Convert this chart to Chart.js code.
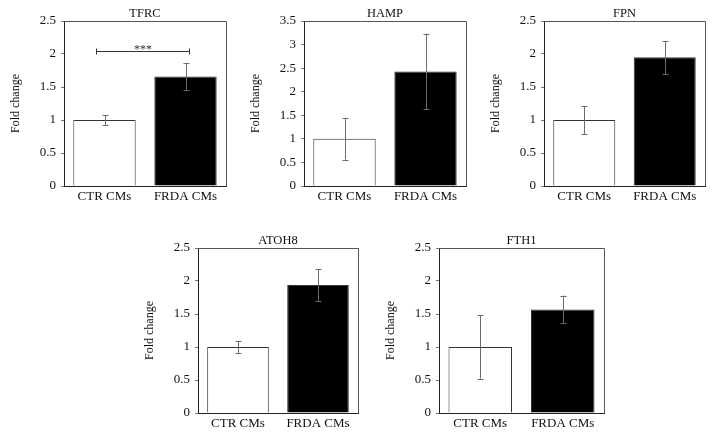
<!DOCTYPE html>
<html>
<head>
<meta charset="utf-8">
<script src="https://cdn.jsdelivr.net/npm/chart.js@4"></script>
<style>
  body { margin: 0; background: #fff; }
  #wrap { position: relative; width: 714px; height: 438px; }
  canvas { position: absolute; }
</style>
</head>
<body>
<div id="wrap">
  <canvas id="c-tfrc"></canvas>
  <canvas id="c-hamp"></canvas>
  <canvas id="c-fpn"></canvas>
  <canvas id="c-atoh8"></canvas>
  <canvas id="c-fth1"></canvas>
</div>
<script>
// Data
const categories = ['CTR CMs', 'FRDA CMs'];
const barColors = ['#ffffff', '#000000'];

const tfrcMean = [1.0, 1.66];
const tfrcErr = [0.075, 0.2];

const hampMean = [1.0, 2.43];
const hampErr = [0.44, 0.8];

const fpnMean = [1.0, 1.95];
const fpnErr = [0.21, 0.25];

const atoh8Mean = [1.0, 1.94];
const atoh8Err = [0.095, 0.24];

const fth1Mean = [1.0, 1.57];
const fth1Err = [0.48, 0.21];

const yMaxes = { TFRC: 2.5, HAMP: 3.5, FPN: 2.5, ATOH8: 2.5, FTH1: 2.5 };

// TFRC significance bracket
const sigLevel = 2.05;
const sigText = '***';

const font = "'Liberation Serif', 'DejaVu Serif', serif";

// title, error bars, frame, bracket
const extrasPlugin = {
    id: 'extras',
    afterDatasetsDraw(chart, args, opts) {
        const ctx = chart.ctx;
        const x = chart.scales.x, y = chart.scales.y;
        const area = chart.chartArea;
        ctx.save();

        // panel title, centred over the plot box
        ctx.fillStyle = '#111';
        ctx.font = '12.5px ' + font;
        ctx.textAlign = 'center';
        ctx.textBaseline = 'middle';
        ctx.fillText(opts.title, (area.left + area.right) / 2, area.top - 7);

        // error bars
        ctx.strokeStyle = '#6b6b6b';
        ctx.lineWidth = 1;
        const mean = chart.data.datasets[0].data;
        opts.err.forEach((e, i) => {
            const px = Math.round(x.getPixelForValue(i)) + 0.5;
            const top = y.getPixelForValue(mean[i] + e);
            const bot = y.getPixelForValue(mean[i] - e);
            ctx.beginPath();
            ctx.moveTo(px, top); ctx.lineTo(px, bot);
            ctx.moveTo(px - 3, Math.round(top) + 0.5); ctx.lineTo(px + 3, Math.round(top) + 0.5);
            ctx.moveTo(px - 3, Math.round(bot) + 0.5); ctx.lineTo(px + 3, Math.round(bot) + 0.5);
            ctx.stroke();
        });

        // top and right frame lines
        ctx.strokeStyle = '#555';
        ctx.beginPath();
        ctx.moveTo(Math.round(area.left), Math.round(area.top) + 0.5);
        ctx.lineTo(Math.round(area.right) + 0.5, Math.round(area.top) + 0.5);
        ctx.lineTo(Math.round(area.right) + 0.5, Math.round(area.bottom));
        ctx.stroke();

        // significance bracket
        if (opts.sig) {
            const yy = Math.round(y.getPixelForValue(sigLevel)) + 0.5;
            const x1 = Math.round(x.getPixelForValue(-0.11)) + 0.5;
            const x2 = Math.round(x.getPixelForValue(1.04)) + 0.5;
            ctx.strokeStyle = '#333';
            ctx.beginPath();
            ctx.moveTo(x1, yy); ctx.lineTo(x2, yy);
            ctx.moveTo(x1, yy - 3); ctx.lineTo(x1, yy + 3);
            ctx.moveTo(x2, yy - 3); ctx.lineTo(x2, yy + 3);
            ctx.stroke();
            ctx.fillStyle = '#333';
            ctx.font = '12px ' + font;
            ctx.textAlign = 'center';
            ctx.textBaseline = 'alphabetic';
            ctx.fillText(sigText, (x1 + x2) / 2, yy + 1);
        }
        ctx.restore();
    }
};

function makeChart(id, left, top, width, height, title, mean, err, sig) {
    const cv = document.getElementById(id);
    cv.width = width; cv.height = height;
    cv.style.left = left + 'px'; cv.style.top = top + 'px';
    cv.style.width = width + 'px'; cv.style.height = height + 'px';
    new Chart(cv.getContext('2d'), {
        type: 'bar',
        data: {
            labels: categories,
            datasets: [{
                data: mean,
                backgroundColor: barColors,
                borderColor: '#333',
                borderWidth: 1,
                barPercentage: 0.77,
                categoryPercentage: 1.0,
            }]
        },
        options: {
            responsive: false,
            animation: false,
            devicePixelRatio: 1,
            layout: { padding: { left: 0, right: 4, top: 21, bottom: 0 } },
            plugins: {
                legend: { display: false },
                tooltip: { enabled: false },
                title: { display: false },
                extras: { err: err, sig: sig, title: title }
            },
            scales: {
                x: {
                    grid: { display: false, drawTicks: false },
                    border: { display: true, color: '#222', width: 1 },
                    ticks: { color: '#111', padding: 3, font: { family: font, size: 13 } },
                    afterFit(s) { s.height = 29; }
                },
                y: {
                    min: 0,
                    max: yMaxes[title],
                    ticks: {
                        stepSize: 0.5, color: '#111', padding: 5,
                        font: { family: font, size: 13 },
                        callback: (v) => String(v)
                    },
                    grid: { display: true, drawOnChartArea: false, drawTicks: true, tickLength: 3, color: '#777' },
                    border: { display: true, color: '#222', width: 1 },
                    title: {
                        display: true,
                        text: 'Fold change',
                        color: '#111',
                        font: { family: font, size: 12 },
                        padding: { top: 9, bottom: 0 }
                    },
                    afterFit(s) { s.width = 64; }
                }
            }
        },
        plugins: [extrasPlugin]
    });
}

makeChart('c-tfrc', 0, 0, 230, 215, 'TFRC', tfrcMean, tfrcErr, true);
makeChart('c-hamp', 240, 0, 230, 215, 'HAMP', hampMean, hampErr, false);
makeChart('c-fpn', 480, 0, 229, 215, 'FPN', fpnMean, fpnErr, false);
makeChart('c-atoh8', 134, 227, 228, 215, 'ATOH8', atoh8Mean, atoh8Err, false);
makeChart('c-fth1', 375, 227, 233, 215, 'FTH1', fth1Mean, fth1Err, false);
</script>
</body>
</html>
